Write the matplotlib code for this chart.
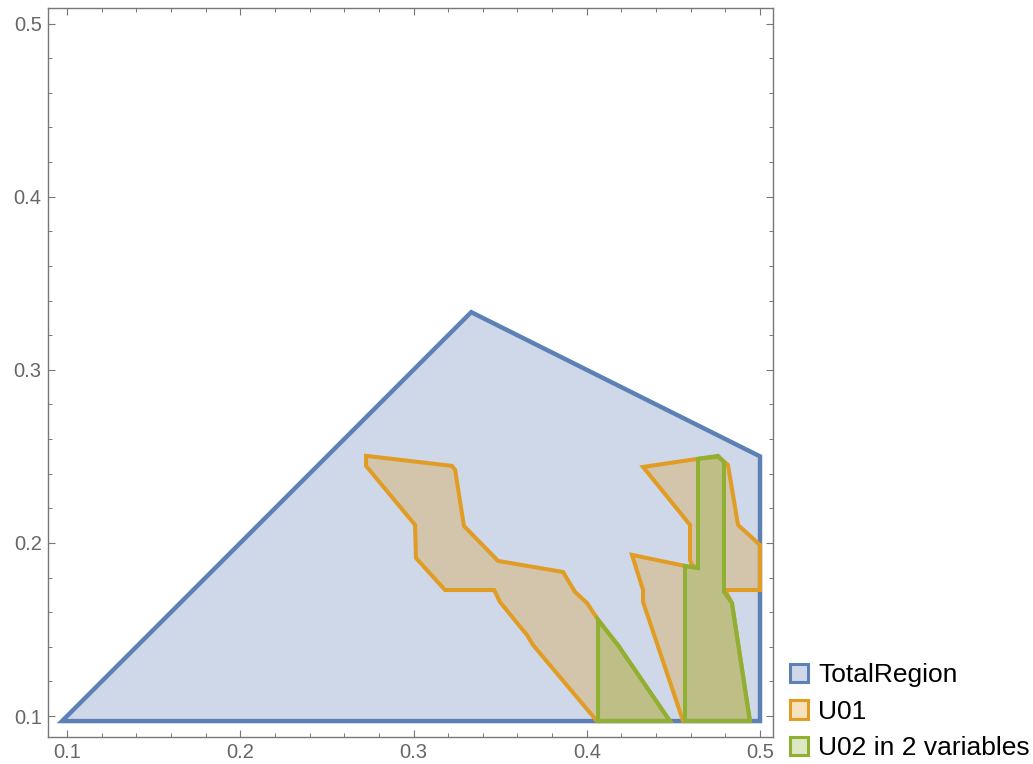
import matplotlib.pyplot as plt
from matplotlib.patches import Polygon, Patch
from matplotlib.colors import to_rgba
from matplotlib.ticker import MultipleLocator

plt.rcParams['font.family'] = ['Liberation Sans', 'DejaVu Sans']

# outer feasible region
total_x = [0.0971, 0.3333, 0.5, 0.5]
total_y = [0.0971, 0.3333, 0.25, 0.0971]

# U01, left strip (runs under the left U02 triangle)
u01_left_x = [0.2726, 0.3222, 0.3240, 0.3291, 0.3488, 0.3863, 0.3932, 0.4001, 0.4059,
              0.4134, 0.4180, 0.4480, 0.4059, 0.3690, 0.3655, 0.3499, 0.3465, 0.3182,
              0.3014, 0.3009, 0.2726]
u01_left_y = [0.2503, 0.2445, 0.2422, 0.2098, 0.1896, 0.1832, 0.1717, 0.1653, 0.1566,
              0.1468, 0.1410, 0.0971, 0.0971, 0.1410, 0.1468, 0.1659, 0.1728, 0.1728,
              0.1913, 0.2104, 0.2445]

# U01, right part (runs under the right U02 piece)
u01_right_x = [0.4325, 0.4642, 0.4758, 0.4815, 0.4873, 0.5, 0.5, 0.4798, 0.4838,
               0.4942, 0.4556, 0.4325, 0.4325, 0.4261, 0.4567, 0.4642, 0.4607,
               0.4596, 0.4596]
u01_right_y = [0.2439, 0.2486, 0.2497, 0.2451, 0.2104, 0.1988, 0.1728, 0.1728, 0.1653,
               0.0971, 0.0971, 0.1659, 0.1728, 0.1931, 0.1867, 0.1855, 0.1873,
               0.1902, 0.2104]

# U02 pieces
u02_left_x = [0.4065, 0.4134, 0.4180, 0.4480, 0.4065]
u02_left_y = [0.1555, 0.1468, 0.1410, 0.0971, 0.0971]

u02_right_x = [0.4642, 0.4758, 0.4792, 0.4792, 0.4838, 0.4942, 0.4567, 0.4567, 0.4642]
u02_right_y = [0.2486, 0.2503, 0.2468, 0.1717, 0.1653, 0.0971, 0.0971, 0.1867, 0.1855]

blue = '#5E81B5'
orange = '#E19C24'
green = '#8FB032'

fig = plt.figure(figsize=(10.33, 7.64), dpi=100)
ax = fig.add_axes([48 / 1033, 1 - 737 / 764, 725 / 1033, 729 / 764])


def region(xs, ys, color, lw):
    pts = list(zip(xs, ys))
    ax.add_patch(Polygon(pts, closed=True, facecolor=color, alpha=0.3, edgecolor='none'))
    ax.add_patch(Polygon(pts, closed=True, facecolor='none', edgecolor=color,
                         linewidth=lw))


region(total_x, total_y, blue, 3.2)
region(u01_left_x, u01_left_y, orange, 2.9)
region(u01_right_x, u01_right_y, orange, 2.9)
region(u02_left_x, u02_left_y, green, 2.9)
region(u02_right_x, u02_right_y, green, 2.9)

ax.set_xlim(0.089, 0.5075)
ax.set_ylim(0.0879, 0.509)

ax.xaxis.set_major_locator(MultipleLocator(0.1))
ax.yaxis.set_major_locator(MultipleLocator(0.1))
ax.xaxis.set_minor_locator(MultipleLocator(0.02))
ax.yaxis.set_minor_locator(MultipleLocator(0.02))
ax.xaxis.set_major_formatter(lambda v, p: f'{v:.1f}')
ax.yaxis.set_major_formatter(lambda v, p: f'{v:.1f}')
ax.tick_params(which='both', direction='in', top=True, right=True,
               color='#777777', labelcolor='#666666', labelsize=14.5, pad=4.5)
ax.tick_params(which='major', length=5, width=0.8)
ax.tick_params(which='minor', length=3, width=0.7)
for s in ax.spines.values():
    s.set_color('#777777')
    s.set_linewidth(1.0)

handles = [Patch(facecolor=to_rgba(c, 0.3), edgecolor=c, linewidth=2.2)
           for c in (blue, orange, green)]
labels = ['TotalRegion', 'U01', 'U02 in 2 variables']
fig.legend(handles, labels, loc='lower left', bbox_to_anchor=(790 / 1033, 4 / 764),
           frameon=False, fontsize=19, handlelength=0.7, handleheight=0.7,
           handletextpad=0.38, labelspacing=0.47, borderaxespad=0, borderpad=0)

fig.savefig('out.png', dpi=100)
